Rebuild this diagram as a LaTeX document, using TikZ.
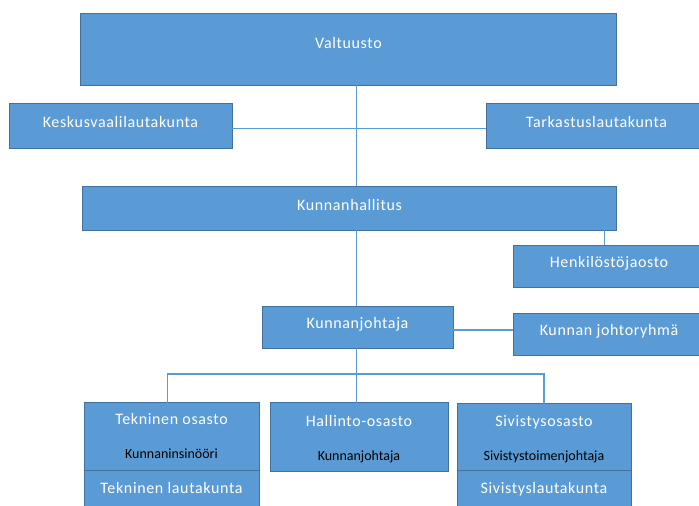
\documentclass[tikz,border=0pt]{standalone}
\usepackage{fontspec}
\setmainfont{Carlito}
\newfontfamily\boxfont[LetterSpace=4]{Carlito}
\newfontfamily\subfont{Carlito}
\definecolor{boxfill}{HTML}{5B9BD5}
\definecolor{boxline}{HTML}{41719C}
\definecolor{conn}{HTML}{5B9BD5}
\newcommand\orgnode[5]{\node[orgbox, anchor=north west, minimum width={(#4-#2)*1pt}, minimum height={(#5-#3)*1pt}] (#1) at (#2,#3) {};}
\begin{document}
\begin{tikzpicture}[x=1pt,y=-1pt,
  orgbox/.style={draw=boxline, line width=0.9pt, fill=boxfill, inner sep=0pt, outer sep=0pt, rectangle},
  main/.style={text=white, font=\boxfont\fontsize{16}{18}\selectfont, anchor=base, inner sep=0pt},
  sub/.style={text=black, font=\subfont\fontsize{14}{16}\selectfont, anchor=base, inner sep=0pt},
  link/.style={draw=conn, line width=1.4pt}]
\useasboundingbox[fill=white] (0,0) rectangle (699,506);
% boxes
\orgnode{V}{80.5}{13}{616.5}{85}
\orgnode{K}{9}{103}{232}{148}
\orgnode{T}{486}{103}{707}{148}
\orgnode{KH}{82.5}{186}{616.5}{230}
\orgnode{H}{513}{245}{707}{287.5}
\orgnode{KJ}{262}{306}{453}{348}
\orgnode{KR}{513}{313}{707}{355}
\orgnode{TO}{84}{402.5}{259}{470}
\orgnode{TL}{84}{470}{259}{520}
\orgnode{HO}{270}{402.5}{448}{471.5}
\orgnode{SO}{457}{403.5}{631}{470}
\orgnode{SL}{457}{470}{631}{520}
% connector helper coordinates
\coordinate (c1) at (356.7,128.3);
\coordinate (c2) at (604.5,0);
\coordinate (c3) at (0,330);
\coordinate (c5) at (167.6,0);
\coordinate (bus) at (356.7,374);
% connectors
\draw[link] (c1 |- V.south) -- (c1 |- KH.north);
\draw[link] (K.east |- c1) -- (T.west |- c1);
\draw[link] (c1 |- KH.south) -- (c1 |- KJ.north);
\draw[link] (c2 |- KH.south) -- (c2 |- H.north);
\draw[link] (KJ.east |- c3) -- (KR.west |- c3);
\draw[link] (c1 |- KJ.south) -- (c1 |- HO.north);
\draw[link] (c5 |- TO.north) |- (bus) -| (SO.north);
% texts
\node[main] (tV) at (348.5,48.2) {Valtuusto};
\node[main] (tK) at (120.5,127.2) {Keskusvaalilautakunta};
\node[main] (tT) at (596.5,127.2) {Tarkastuslautakunta};
\node[main] (tKH) at (349.5,210.5) {Kunnanhallitus};
\node[main] (tH) at (609,267.8) {Henkilöstöjaosto};
\node[main] (tKJ) at (357.5,328.8) {Kunnanjohtaja};
\node[main] (tKR) at (609,335.5) {Kunnan johtoryhmä};
\node[main] (tTO) at (171.5,424.5) {Tekninen osasto};
\node[sub] (sTO) at (171.5,458.3) {Kunnaninsinööri};
\node[main] (tTL) at (171.5,493.8) {Tekninen lautakunta};
\node[main] (tHO) at (359,426.2) {Hallinto-osasto};
\node[sub] (sHO) at (359,460.7) {Kunnanjohtaja};
\node[main] (tSO) at (544,426.2) {Sivistysosasto};
\node[sub] (sSO) at (544,460.7) {Sivistystoimenjohtaja};
\node[main] (tSL) at (544,493.8) {Sivistyslautakunta};
\end{tikzpicture}
\end{document}
